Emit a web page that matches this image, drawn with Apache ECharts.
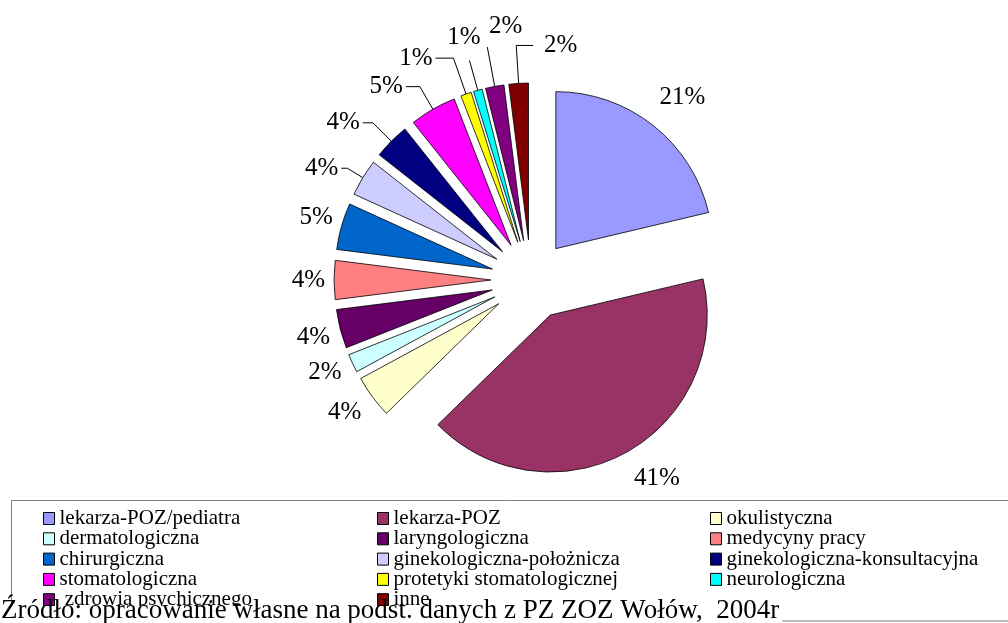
<!DOCTYPE html>
<html>
<head>
<meta charset="utf-8">
<script src="https://cdn.jsdelivr.net/npm/echarts@6/dist/echarts.min.js"></script>
<style>
  html, body { margin: 0; padding: 0; background: #fff; }
  #chart { width: 1008px; height: 623px; }
</style>
</head>
<body>
<div id="chart"></div>
<script>
// kategorie poradni (kolejność wycinków, zgodnie z ruchem wskazówek zegara od góry)
var categories = [
  'lekarza-POZ/pediatra', 'lekarza-POZ', 'okulistyczna',
  'dermatologiczna', 'laryngologiczna', 'medycyny pracy',
  'chirurgiczna', 'ginekologiczna-położnicza', 'ginekologiczna-konsultacyjna',
  'stomatologiczna', 'protetyki stomatologicznej', 'neurologiczna',
  ' zdrowia psychicznego', 'inne'
];
var shares = [21.3, 41.4, 4.4, 1.9, 4.0, 4.0, 4.8, 3.8, 3.7, 4.8, 1.1, 0.9, 1.9, 2.0];
var colors = [
  '#9999FF', '#993366', '#FFFFCC', '#CCFFFF', '#660066', '#FF8080', '#0066CC',
  '#CCCCFF', '#000080', '#FF00FF', '#FFFF00', '#00FFFF', '#800080', '#800000'
];

// kolumny legendy
var legendCol1 = [categories[0], categories[3], categories[6], categories[9], categories[12]];
var legendCol2 = [categories[1], categories[4], categories[7], categories[10], categories[13]];
var legendCol3 = [categories[2], categories[5], categories[8], categories[11]];

var sourceText = 'Źródło: opracowanie własne na podst. danych z PZ ZOZ Wołów,  2004r';

var serif = '"Liberation Serif", "Times New Roman", serif';

// ustawienia etykiet: [pokaż linię, length, length2, odstęp od linii, uniesienie nad koniec linii]
var labelSetup = [
  [false, 36, -19, 3, 0],
  [false, 29, -9, 3, 0],
  [false, 26, -13, 3, 0],
  [false, 21, -11, 3, 0],
  [false, 32, -24, 3, 0],
  [false, 0, 6, 3, 0],
  [false, 34, -27, 3, 0],
  [true, 18, 6, 3, 0],
  [true, 26, 10, 3, 0],
  [true, 26, 14, 3, 0],
  [true, 38, 18, 3, 0],
  [true, 31, 0, -11, 23],
  [true, 40, 0, -35, 21],
  [true, 38, -17, -44, 0]
];

var pieData = categories.map(function (name, i) {
  var s = labelSetup[i];
  var lbl = { distanceToLabelLine: s[3] };
  if (s[4]) {
    // etykieta nad końcem linii: dwa puste wiersze pod tekstem
    lbl.formatter = Math.round(shares[i]) + '%\n\n';
    lbl.lineHeight = s[4];
  }
  return {
    name: name,
    value: shares[i],
    selected: true,
    itemStyle: { color: colors[i] },
    label: lbl,
    labelLine: { show: s[0], length: s[1], length2: s[2] }
  };
});

function legendAt(left, data) {
  return {
    orient: 'vertical',
    left: left,
    top: 503,
    data: data,
    icon: 'rect',
    itemWidth: 11,
    itemHeight: 12,
    itemGap: -0.7,
    selectedMode: false,
    itemStyle: { borderColor: '#000', borderWidth: 1 },
    textStyle: { fontFamily: serif, fontSize: 21, color: '#000' }
  };
}

var myChart = echarts.init(document.getElementById('chart'));
var option = {
  backgroundColor: '#fff',
  animation: false,
  legend: [legendAt(38, legendCol1), legendAt(372, legendCol2), legendAt(705, legendCol3)],
  graphic: [
    {
      type: 'rect',
      shape: { x: 11.5, y: 500.5, width: 1010, height: 120.5 },
      style: { fill: 'none', stroke: '#808080', lineWidth: 1 },
      z: 1
    },
    {
      type: 'rect',
      shape: { x: 0, y: 606, width: 782, height: 17 },
      style: { fill: '#fff' },
      z: 100
    },
    {
      type: 'text',
      left: 1,
      top: 597,
      style: { text: sourceText, font: '27px ' + serif, fill: '#000' },
      z: 101
    }
  ],
  series: [{
    type: 'pie',
    center: [531, 280],
    radius: 157,
    startAngle: 90,
    clockwise: true,
    selectedMode: 'multiple',
    selectedOffset: 40,
    avoidLabelOverlap: false,
    emphasis: { disabled: true },
    itemStyle: { borderColor: '#000', borderWidth: 0.8 },
    label: {
      show: true,
      position: 'outside',
      formatter: function (p) { return Math.round(p.value) + '%'; },
      fontFamily: serif,
      fontSize: 25,
      color: '#000'
    },
    labelLine: {
      minTurnAngle: 0,
      lineStyle: { color: '#000', width: 1 }
    },
    data: pieData
  }]
};
myChart.setOption(option);
</script>
</body>
</html>
